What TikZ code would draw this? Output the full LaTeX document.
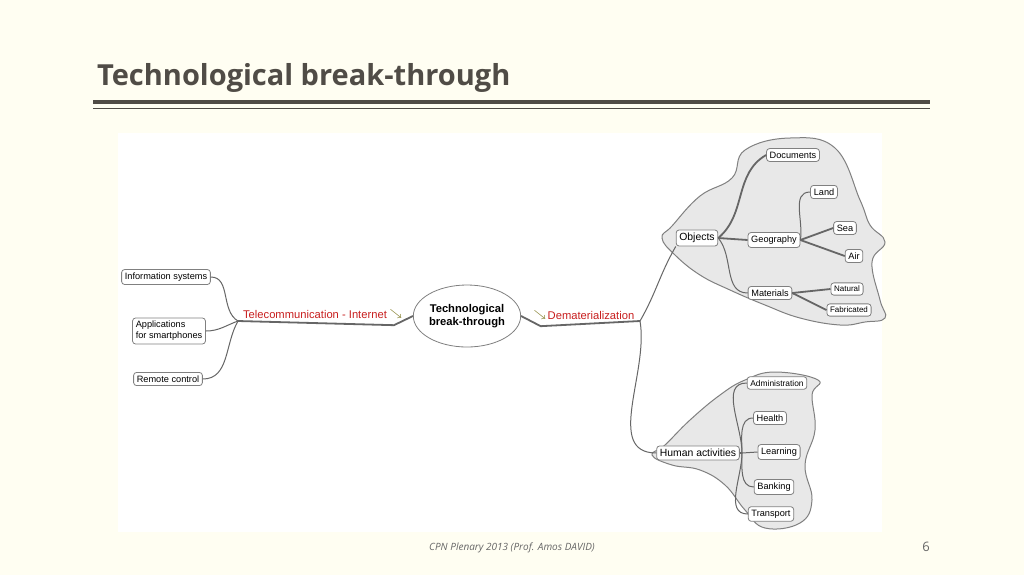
\documentclass[tikz,border=0pt]{standalone}
\usepackage{fontspec}
\setmainfont{Open Sans}
\newfontfamily\mapfont{Liberation Sans}
\usetikzlibrary{shapes.geometric}
\definecolor{slidebg}{RGB}{255,254,242}
\definecolor{titlegray}{RGB}{80,76,70}
\definecolor{mapred}{RGB}{200,30,30}
\definecolor{cloudgray}{RGB}{232,232,232}

\begin{document}
\begin{tikzpicture}[x=0.5pt,y=-0.5pt,font=\mapfont\fontsize{4.6}{5.5}\selectfont]
\tikzstyle{leaf}=[draw=gray,rounded corners=1.5,fill=white,inner sep=1.6pt]
\tikzstyle{branch}=[draw=gray!80!black,line width=0.9pt]
\tikzstyle{twig}=[draw=gray!80!black,line width=0.5pt]
\tikzstyle{cloud}=[draw=gray,fill=cloudgray,line width=0.5pt]

\useasboundingbox[fill=slidebg] (0,0) rectangle (1024,575);
\fill[white] (118,133) rectangle (882,532);

% title
\node[anchor=west,font=\bfseries\fontsize{14.5}{16}\selectfont,text=titlegray] (title) at (90,78) {Technological break-through};
\draw[titlegray,line width=1.6pt] (93,102) -- (930,102);
\draw[titlegray,line width=0.4pt] (93,108) -- (930,108);

% clouds
\draw[cloud] plot[smooth cycle,tension=0.7] coordinates {(662,238) (672,226) (700,196) (732,178) (745,150) (790,138) (835,148) (860,200) (870,225) (885,242) (872,262) (880,300) (885,318) (865,322) (840,325) (800,318) (765,305) (730,290) (700,275) (675,255)};
\draw[cloud] plot[smooth cycle,tension=0.7] coordinates {(652,455) (665,445) (690,420) (720,395) (745,380) (775,372) (818,380) (812,395) (815,430) (805,465) (812,500) (800,523) (765,528) (745,510) (725,485) (700,470) (672,465)};

% centre and branches
\node[ellipse,draw=gray,fill=white,minimum width=46,minimum height=31,align=center,inner sep=0,font=\mapfont\bfseries\fontsize{5.6}{6.8}\selectfont] (root) at (467,316) {Technological\\break-through};
\node[text=mapred,font=\mapfont\fontsize{5.6}{6.8}\selectfont] (tele) at (315,314) {Telecommunication - Internet};
\node[text=mapred,font=\mapfont\fontsize{5.6}{6.8}\selectfont] (demat) at (591,315) {Dematerialization};
\node[text=olive!80!black,font=\mapfont\fontsize{3.5}{4}\selectfont] (pin1) at (396,314) {$\searrow$};
\node[text=olive!80!black,font=\mapfont\fontsize{3.5}{4}\selectfont] (pin2) at (540,315) {$\searrow$};

\node[leaf] (info) at (166,277) {Information systems};
\node[leaf,align=left] (apps) at (169,331) {Applications\\for smartphones};
\node[leaf] (remote) at (168,379) {Remote control};

\node[leaf,font=\mapfont\fontsize{5.2}{6}\selectfont] (objects) at (697,238) {Objects};
\node[leaf,font=\mapfont\fontsize{5.2}{6}\selectfont] (human) at (698,453) {Human activities};

\node[leaf] (docs) at (793,155) {Documents};
\node[leaf] (geo) at (774,240) {Geography};
\node[leaf] (mat) at (770,293) {Materials};
\node[leaf] (land) at (824,192) {Land};
\node[leaf] (sea) at (845,228) {Sea};
\node[leaf] (air) at (854,256) {Air};
\node[leaf,font=\mapfont\fontsize{4}{5}\selectfont] (natural) at (847,289) {Natural};
\node[leaf,font=\mapfont\fontsize{4}{5}\selectfont] (fabric) at (849,310) {Fabricated};

\node[leaf,font=\mapfont\fontsize{4.2}{5}\selectfont] (admin) at (777,383) {Administration};
\node[leaf] (health) at (770,418) {Health};
\node[leaf] (learn) at (779,452) {Learning};
\node[leaf] (bank) at (774,487) {Banking};
\node[leaf] (trans) at (771,514) {Transport};

% connectors
\coordinate (hubL) at (238,321);
\coordinate (hubR) at (640,321);
\draw[branch] (root.west) -- (tele.south east) -- (hubL);
\draw[branch] (root.east) -- (demat.south west) -- (hubR);
\draw[twig] (hubL) to[out=150,in=0] (info.east);
\draw[twig] (hubL) to[out=200,in=0] (apps.east);
\draw[twig] (hubL) to[out=240,in=0] (remote.east);
\draw[twig] (hubR) to[out=60,in=240] (objects.south west);
\draw[twig] (hubR) to[out=280,in=180] (human.west);
\draw[branch] (objects.east) to[out=40,in=210] (docs.west);
\draw[branch] (objects.east) -- (geo.west);
\draw[twig] (objects.east) to[out=-50,in=180] (mat.west);
\draw[twig] (geo.east) to[out=80,in=180] (land.west);
\draw[branch] (geo.east) -- (sea.west);
\draw[branch] (geo.east) -- (air.west);
\draw[branch] (mat.east) -- (natural.west);
\draw[branch] (mat.east) -- (fabric.west);
\coordinate (hubH) at (742,453);
\draw[branch] (human.east) -- (hubH);
\draw[twig] (hubH) to[out=90,in=180] (admin.west);
\draw[twig] (hubH) to[out=90,in=180] (health.west);
\draw[twig] (hubH) -- (learn.west);
\draw[twig] (hubH) to[out=-90,in=180] (bank.west);
\draw[twig] (hubH) to[out=-90,in=180] (trans.west);

% footer
\node[font=\itshape\fontsize{5}{6}\selectfont,text=gray!80!black] (foot) at (512,548) {CPN Plenary 2013 (Prof. Amos DAVID)};
\node[font=\fontsize{6.5}{8}\selectfont,text=gray!80!black] (page) at (926,547) {6};
\end{tikzpicture}
\end{document}
